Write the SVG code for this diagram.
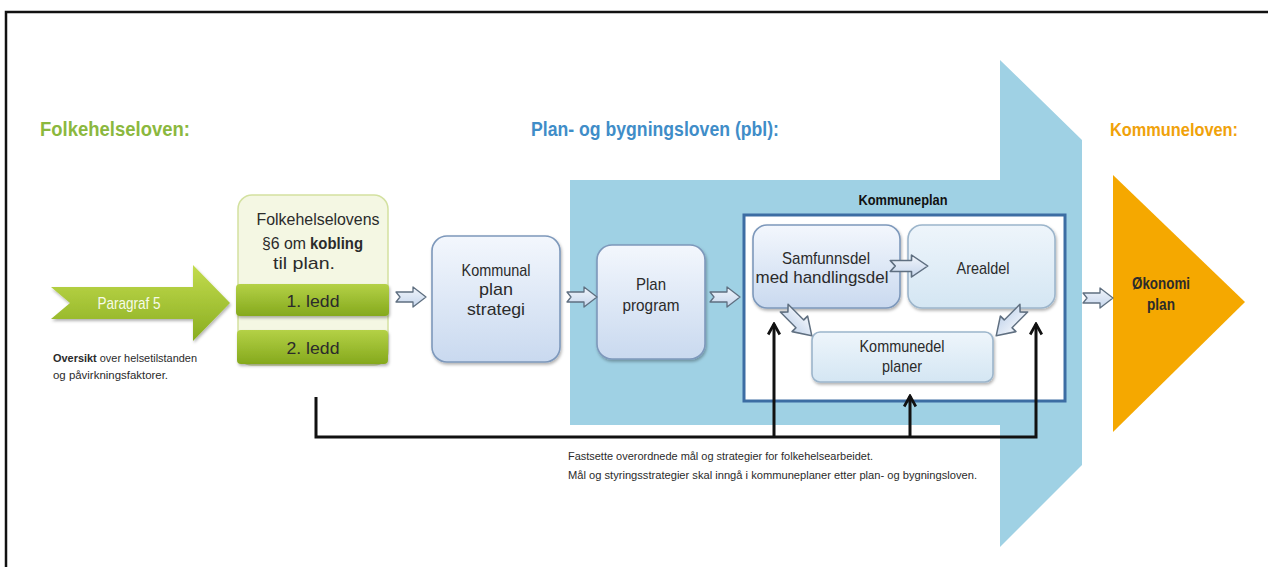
<svg xmlns="http://www.w3.org/2000/svg" width="1268" height="567" viewBox="0 0 1268 567">
<style>
.t{font-family:"Liberation Sans",Arial,sans-serif;}
.title{font-size:21px;font-weight:bold;}
.node{font-size:17px;fill:#2b2b2b;text-anchor:middle;}
.small{font-size:11.5px;fill:#2b2b2b;}
.sa{fill:url(#gSmall);stroke:#5f6f80;stroke-width:1.3;stroke-linejoin:round;}
.box{fill:url(#gBox);stroke:#7d98bb;stroke-width:1.6;filter:url(#sh);}
.boxL{fill:url(#gBoxL);stroke:#9cb5cb;stroke-width:1.6;filter:url(#sh);}
.bar{fill:url(#gBar);filter:url(#sh);}
.conn{fill:none;stroke:#111;stroke-width:3;}
</style>
<defs>
<linearGradient id="gBox" x1="0" y1="0" x2="0" y2="1"><stop offset="0" stop-color="#f3f7fd"/><stop offset="1" stop-color="#c9d9ef"/></linearGradient>
<linearGradient id="gBoxL" x1="0" y1="0" x2="0" y2="1"><stop offset="0" stop-color="#eef5fb"/><stop offset="1" stop-color="#d4e6f3"/></linearGradient>
<linearGradient id="gBar" x1="0" y1="0" x2="0" y2="1"><stop offset="0" stop-color="#b4d146"/><stop offset="1" stop-color="#85a91d"/></linearGradient>
<linearGradient id="gPara" x1="0" y1="0" x2="0" y2="1"><stop offset="0" stop-color="#c3dc4e"/><stop offset="1" stop-color="#89ad20"/></linearGradient>
<linearGradient id="gSmall" x1="0" y1="0" x2="0" y2="1"><stop offset="0" stop-color="#f1f5fb"/><stop offset="1" stop-color="#c6d6ec"/></linearGradient>
<filter id="sh" x="-10%" y="-10%" width="130%" height="130%"><feDropShadow dx="1" dy="2" stdDeviation="1.5" flood-color="#000" flood-opacity="0.3"/></filter>
<path id="sarr" d="M-15,-5 L2,-5 L2,-10 L15,0 L2,10 L2,5 L-15,5 L-11,0 Z"/>
<marker id="ah" viewBox="0 0 12 12" refX="10" refY="6" markerWidth="14" markerHeight="14" markerUnits="userSpaceOnUse" orient="auto">
<path d="M1,1 L10,6 L1,11" fill="none" stroke="#111" stroke-width="2.4"/>
</marker>
</defs>
<rect width="1268" height="567" fill="#fff"/>
<path d="M6,567 V12 H1268" fill="none" stroke="#111" stroke-width="2.5"/>

<g id="pbl-arrow">
<polygon points="570,180 1000,180 1000,60 1082,140 1082,465 1000,547 1000,425 570,425" fill="#9fd1e4"/>
</g>

<g id="titles" class="t title">
<text x="40" y="136" fill="#8bb83e" textLength="150" lengthAdjust="spacingAndGlyphs">Folkehelseloven:</text>
<text x="531" y="136" fill="#3f8dc8" textLength="248" lengthAdjust="spacingAndGlyphs">Plan- og bygningsloven (pbl):</text>
<text x="1110" y="136" fill="#f0a20a" font-size="19" textLength="128" lengthAdjust="spacingAndGlyphs">Kommuneloven:</text>
</g>

<g id="paragraf5">
<polygon points="51,287 193,287 193,265 230,303 193,341 193,319 51,319 70,303" fill="url(#gPara)" filter="url(#sh)"/>
<text class="t" x="129" y="309" font-size="17" fill="#f7fbe9" text-anchor="middle" textLength="63" lengthAdjust="spacingAndGlyphs">Paragraf 5</text>
<text class="t small" x="53" y="362" textLength="144" lengthAdjust="spacingAndGlyphs"><tspan font-weight="bold">Oversikt</tspan> over helsetilstanden</text>
<text class="t small" x="53" y="379" textLength="115" lengthAdjust="spacingAndGlyphs">og påvirkningsfaktorer.</text>
</g>

<g id="folkehelse6">
<rect x="238" y="195" width="150" height="170" rx="14" fill="#f4f7e3" stroke="#d3e1a0" stroke-width="1.5"/>
<text class="t node" x="318" y="225" font-size="16" textLength="123" lengthAdjust="spacingAndGlyphs">Folkehelselovens</text>
<text class="t" x="262" y="249" font-size="16" fill="#2b2b2b" textLength="44" lengthAdjust="spacingAndGlyphs">§6 om</text>
<text class="t" x="310" y="249" font-size="16" font-weight="bold" fill="#2b2b2b" textLength="53" lengthAdjust="spacingAndGlyphs">kobling</text>
<text class="t node" x="304" y="269" font-size="16" textLength="62" lengthAdjust="spacingAndGlyphs">til plan.</text>
<rect class="bar" x="236" y="284" width="153" height="32" rx="4"/>
<text class="t node" x="313" y="307" font-size="18" textLength="53" lengthAdjust="spacingAndGlyphs">1. ledd</text>
<rect class="bar" x="237" y="330" width="151" height="34" rx="4"/>
<text class="t node" x="313" y="354" font-size="18" textLength="53" lengthAdjust="spacingAndGlyphs">2. ledd</text>
</g>

<g id="kommunal-planstrategi">
<rect class="box" x="432" y="236" width="128" height="126" rx="15"/>
<text class="t node" x="496" y="276" textLength="69" lengthAdjust="spacingAndGlyphs">Kommunal</text>
<text class="t node" x="496" y="295" textLength="34" lengthAdjust="spacingAndGlyphs">plan</text>
<text class="t node" x="496" y="315" textLength="58" lengthAdjust="spacingAndGlyphs">strategi</text>
</g>

<g id="planprogram">
<rect class="box" x="597" y="245" width="108" height="114" rx="15"/>
<text class="t node" x="651" y="290" textLength="30" lengthAdjust="spacingAndGlyphs">Plan</text>
<text class="t node" x="651" y="311" textLength="57" lengthAdjust="spacingAndGlyphs">program</text>
</g>

<g id="kommuneplan">
<text class="t" x="903" y="205" font-size="14" font-weight="bold" fill="#111" text-anchor="middle" textLength="89" lengthAdjust="spacingAndGlyphs">Kommuneplan</text>
<rect x="744" y="215" width="321" height="186" fill="#fff" stroke="#3c6da3" stroke-width="3"/>
</g>

<g id="samfunnsdel">
<rect class="box" x="753" y="225" width="147" height="83" rx="14"/>
<text class="t node" x="826" y="264" font-size="16" textLength="88" lengthAdjust="spacingAndGlyphs">Samfunnsdel</text>
<text class="t node" x="822" y="283" font-size="16" textLength="133" lengthAdjust="spacingAndGlyphs">med handlingsdel</text>
</g>

<g id="arealdel">
<rect class="boxL" x="908" y="225" width="147" height="83" rx="14"/>
<text class="t node" x="983" y="274" textLength="53" lengthAdjust="spacingAndGlyphs">Arealdel</text>
</g>

<g id="kommunedelplaner">
<rect class="boxL" x="812" y="332" width="181" height="50" rx="8"/>
<text class="t node" x="902" y="352" font-size="16" textLength="85" lengthAdjust="spacingAndGlyphs">Kommunedel</text>
<text class="t node" x="902" y="372" font-size="16" textLength="40" lengthAdjust="spacingAndGlyphs">planer</text>
</g>

<g id="okonomiplan">
<polygon points="1113,175 1245,302 1113,432" fill="#f5a800"/>
<text class="t node" x="1161" y="289" font-weight="bold" fill="#3d2a00" textLength="58" lengthAdjust="spacingAndGlyphs">Økonomi</text>
<text class="t node" x="1161" y="310" font-weight="bold" fill="#3d2a00" textLength="28" lengthAdjust="spacingAndGlyphs">plan</text>
</g>

<g id="connectors">
<use href="#sarr" class="sa" transform="translate(411,297)"/>
<use href="#sarr" class="sa" transform="translate(582,297)"/>
<use href="#sarr" class="sa" transform="translate(725,297)"/>
<use href="#sarr" class="sa" transform="translate(909,266) scale(1.25,1.1)"/>
<use href="#sarr" class="sa" transform="translate(798,322) rotate(45) scale(1.3,1.1)"/>
<use href="#sarr" class="sa" transform="translate(1010,322) rotate(135) scale(1.3,1.1)"/>
<use href="#sarr" class="sa" transform="translate(1098,298)"/>
<path class="conn" d="M316,397 V437 H1036 V324" marker-end="url(#ah)"/>
<path class="conn" d="M774,437 V324" marker-end="url(#ah)"/>
<path class="conn" d="M910,437 V396" marker-end="url(#ah)"/>
</g>

<g id="note" class="t small">
<text x="568" y="460" textLength="305" lengthAdjust="spacingAndGlyphs">Fastsette overordnede mål og strategier for folkehelsearbeidet.</text>
<text x="568" y="479" textLength="409" lengthAdjust="spacingAndGlyphs">Mål og styringsstrategier skal inngå i kommuneplaner etter plan- og bygningsloven.</text>
</g>
</svg>
